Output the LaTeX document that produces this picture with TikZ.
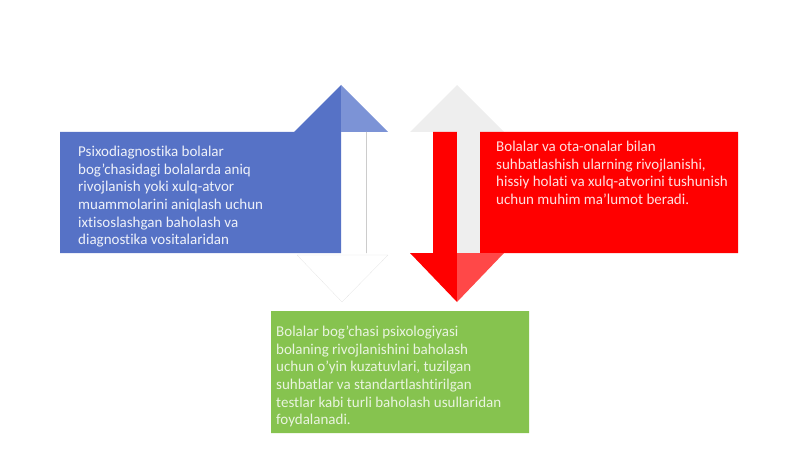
\documentclass[tikz,border=0pt]{standalone}
\usepackage{fontspec, tikz, tkz-euclide}
\setmainfont{Carlito}[Ligatures=NoCommon]
\definecolor{blueface}{HTML}{5672C6}
\definecolor{bluelight}{HTML}{7C93D6}
\definecolor{redface}{HTML}{FF0000}
\definecolor{redlight}{HTML}{FF4848}
\definecolor{greenface}{HTML}{86C34F}
\definecolor{greyface}{HTML}{EEEEEE}

\begin{document}
\begin{tikzpicture}[x=1pt, y=-1pt,
    txt/.style={font=\fontsize{15}{17.6}\selectfont, align=left, inner sep=0pt, anchor=north west}]
    \useasboundingbox (0,0) rectangle (800,449);
    % left: blue box, up arrow and white down arrow
    \tkzDefPoints{60/132/A, 341/132/B, 341/253/C, 60/253/D, 366/132/E, 366/253/F}
    \tkzDefPoints{294/132/G, 341/85/H, 388/132/I, 297/255/J, 388/255/K, 342/302/L}
    \tkzFillPolygon[fill=blueface](A,B,C,D)
    \tkzFillPolygon[fill=blueface](G,H,B)
    \tkzFillPolygon[fill=bluelight](H,I,B)
    \tkzDrawSegment[black!20](E,F)
    \tkzDrawPolygon[black!12, fill=white](J,K,L)
    % right: grey up arrow, red box and red down arrow
    \tkzDefPoints{410/132/M, 457/85/N, 504/132/O, 457/132/P, 433/132/Q, 457/253/R, 433/253/S}
    \tkzDefPoints{480/132/T, 480/253/U, 738/132/V, 738/253/W, 410/253/X, 504/253/Y, 457/302/Z}
    \tkzFillPolygon[fill=greyface](M,N,O)
    \tkzFillPolygon[fill=redface](Q,P,R,S)
    \tkzFillPolygon[fill=greyface](P,T,U,R)
    \tkzFillPolygon[fill=redface](T,V,W,U)
    \tkzFillPolygon[fill=redface](X,R,Z)
    \tkzFillPolygon[fill=redlight](R,Y,Z)
    % bottom: green box
    \tkzDefPoints{271/311/A1, 529/311/B1, 529/433/C1, 271/433/D1}
    \tkzFillPolygon[fill=greenface](A1,B1,C1,D1)
    \node[txt, text=white!90!blueface] (psixo) at (78,146) {Psixodiagnostika bolalar\\
        bog'chasidagi bolalarda aniq\\ rivojlanish yoki xulq-atvor\\
        muammolarini aniqlash uchun\\ ixtisoslashgan baholash va\\
        diagnostika vositalaridan};
    \node[txt, text=white!88!redface] (suhbat) at (496,141) {Bolalar va ota-onalar bilan\\
        suhbatlashish ularning rivojlanishi,\\ hissiy holati va xulq-atvorini tushunish\\
        uchun muhim ma'lumot beradi.};
    \node[txt, text=white!82!greenface] (baholash) at (276,326) {Bolalar bog'chasi psixologiyasi\\
        bolaning rivojlanishini baholash\\ uchun o'yin kuzatuvlari, tuzilgan\\
        suhbatlar va standartlashtirilgan\\ testlar kabi turli baholash usullaridan\\
        foydalanadi.};
\end{tikzpicture}
\end{document}
